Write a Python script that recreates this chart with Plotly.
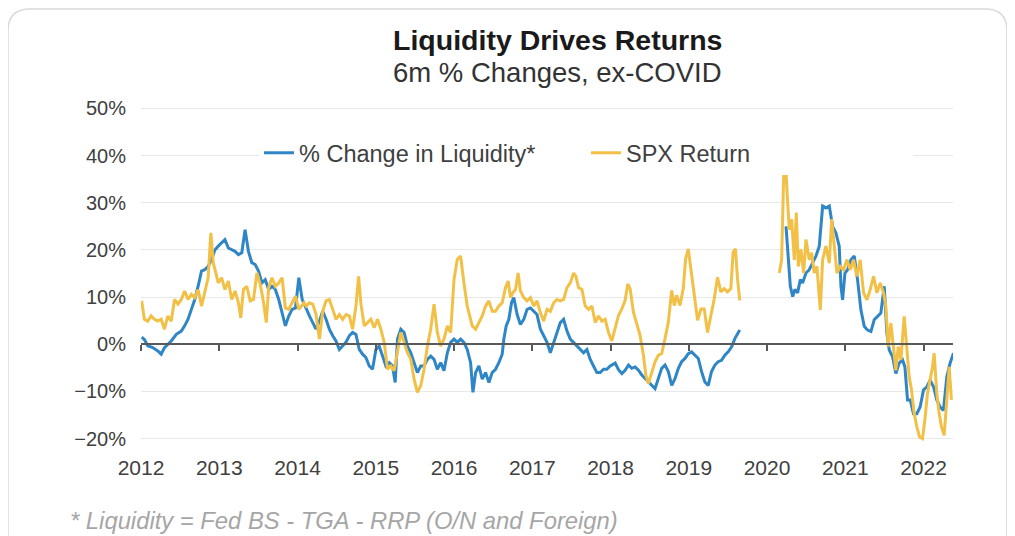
import plotly.graph_objects as go

# ---------------- data ----------------
years = [2012, 2013, 2014, 2015, 2016, 2017, 2018, 2019, 2020, 2021, 2022]
year_labels = [str(y) for y in years]

# % Change in Liquidity* (6m, %), decimal-year dates; None marks the ex-COVID gap
liq_t = [2012.009, 2012.043, 2012.086, 2012.150, 2012.215, 2012.258, 2012.300, 2012.343, 2012.386, 2012.451,
         2012.515, 2012.558, 2012.601, 2012.644, 2012.687, 2012.730, 2012.773, 2012.815, 2012.858, 2012.901,
         2012.944, 2012.987, 2013.030, 2013.073, 2013.116, 2013.159, 2013.202, 2013.245, 2013.288, 2013.330,
         2013.373, 2013.416, 2013.459, 2013.502, 2013.545, 2013.588, 2013.631, 2013.674, 2013.717, 2013.760,
         2013.803, 2013.845, 2013.888, 2013.931, 2013.974, 2014.017, 2014.060, 2014.110, 2014.152, 2014.195,
         2014.237, 2014.280, 2014.322, 2014.365, 2014.407, 2014.450, 2014.492, 2014.535, 2014.577, 2014.619,
         2014.662, 2014.704, 2014.747, 2014.789, 2014.832, 2014.874, 2014.917, 2014.959, 2015.002, 2015.044,
         2015.087, 2015.129, 2015.172, 2015.214, 2015.248, 2015.278, 2015.320, 2015.363, 2015.405, 2015.448,
         2015.490, 2015.532, 2015.575, 2015.617, 2015.660, 2015.702, 2015.745, 2015.787, 2015.830, 2015.872,
         2015.915, 2015.957, 2016.000, 2016.042, 2016.084, 2016.127, 2016.169, 2016.212, 2016.242, 2016.276,
         2016.318, 2016.361, 2016.403, 2016.446, 2016.488, 2016.531, 2016.573, 2016.616, 2016.637, 2016.667,
         2016.701, 2016.735, 2016.764, 2016.807, 2016.849, 2016.892, 2016.934, 2016.977, 2017.019, 2017.061,
         2017.104, 2017.146, 2017.189, 2017.231, 2017.274, 2017.316, 2017.359, 2017.401, 2017.444, 2017.486,
         2017.529, 2017.571, 2017.614, 2017.656, 2017.698, 2017.741, 2017.783, 2017.826, 2017.868, 2017.911,
         2017.953, 2017.996, 2018.060, 2018.102, 2018.145, 2018.187, 2018.230, 2018.272, 2018.315, 2018.357,
         2018.400, 2018.442, 2018.485, 2018.527, 2018.569, 2018.612, 2018.654, 2018.697, 2018.739, 2018.782,
         2018.824, 2018.867, 2018.909, 2018.952, 2018.994, 2019.037, 2019.079, 2019.122, 2019.164, 2019.206,
         2019.249, 2019.291, 2019.334, 2019.376, 2019.419, 2019.461, 2019.504, 2019.546, 2019.589, 2019.631,
         2019.652, 2019.900,
         2020.243, 2020.272, 2020.298, 2020.328, 2020.357, 2020.391, 2020.426, 2020.455, 2020.498, 2020.540,
         2020.583, 2020.626, 2020.668, 2020.711, 2020.753, 2020.796, 2020.838, 2020.881, 2020.923, 2020.945,
         2020.966, 2020.996, 2021.030, 2021.072, 2021.115, 2021.157, 2021.200, 2021.243, 2021.285, 2021.328,
         2021.370, 2021.413, 2021.455, 2021.498, 2021.532, 2021.562, 2021.604, 2021.647, 2021.689, 2021.732,
         2021.762, 2021.796, 2021.830, 2021.872, 2021.915, 2021.957, 2022.000, 2022.043, 2022.085, 2022.128,
         2022.170, 2022.213, 2022.255, 2022.298, 2022.340, 2022.383]
liq_v = [1.5, 1.0, -0.3, -0.7, -1.4, -2.1, -0.7, 0.0, 0.7, 2.1,
         2.8, 3.9, 5.3, 7.4, 9.5, 12.3, 15.5, 15.8, 16.5, 18.0,
         20.0, 20.8, 21.5, 22.2, 20.4, 20.0, 19.7, 19.0, 19.4, 24.3,
         19.7, 17.3, 16.9, 15.5, 13.0, 13.7, 11.6, 12.3, 11.6, 9.5,
         6.7, 3.9, 6.0, 7.4, 7.7, 14.1, 9.5, 7.4, 6.0, 4.6,
         3.2, 4.9, 7.0, 5.3, 3.2, 1.8, 0.7, -1.1, -0.4, 0.4,
         1.8, 2.5, 2.1, -1.1, -2.1, -2.8, -4.6, -5.3, -1.1, -0.4,
         -2.5, -4.6, -3.9, -4.6, -8.1, 1.1, 3.2, 2.5, -0.4, -1.8,
         -3.9, -6.0, -4.6, -4.6, -3.2, -2.5, -3.2, -5.3, -3.9, -5.6,
         -1.8, 0.4, 1.1, 0.4, 1.1, 0.4, -1.1, -3.9, -10.2, -6.0,
         -4.6, -7.4, -6.0, -8.1, -6.0, -5.3, -3.9, -2.1, 1.1, 3.9,
         5.3, 8.8, 9.9, 6.3, 4.2, 5.3, 7.4, 7.7, 7.0, 6.3,
         3.2, 1.8, 0.4, -1.8, 0.4, 2.5, 4.6, 5.3, 2.8, 1.1,
         0.4, -0.4, -1.1, -1.8, -1.1, -3.2, -4.6, -6.0, -6.0, -5.3,
         -5.3, -4.6, -4.0, -5.4, -6.2, -5.5, -4.4, -5.1, -4.8, -5.5,
         -6.5, -7.3, -8.0, -8.7, -9.4, -7.3, -5.1, -4.4, -5.8, -8.7,
         -7.3, -5.1, -3.7, -3.0, -2.0, -1.6, -2.3, -3.0, -5.8, -8.0,
         -8.7, -5.8, -4.4, -3.7, -3.4, -2.3, -1.6, -0.6, 1.2, 2.6,
         3.0, None,
         25.0, 17.9, 12.3, 10.1, 11.6, 10.9, 13.7, 13.0, 15.1, 15.8,
         17.2, 18.7, 20.8, 29.3, 28.9, 29.3, 25.0, 23.6, 20.8, 12.3,
         9.4, 15.1, 15.8, 17.9, 18.7, 13.7, 7.3, 3.8, 3.0, 2.7,
         5.2, 5.9, 6.6, 12.3, 2.3, -1.2, -2.6, -6.2, -4.0, -3.3,
         -4.8, -11.8, -11.8, -14.7, -14.7, -13.3, -9.7, -9.0, -7.6, -9.0,
         -11.8, -13.3, -14.0, -6.9, -4.0, -1.9]

# SPX Return (6m, %)
spx_t = [2012.009, 2012.043, 2012.086, 2012.129, 2012.172, 2012.215, 2012.258, 2012.300, 2012.343, 2012.386,
         2012.429, 2012.472, 2012.515, 2012.558, 2012.601, 2012.644, 2012.687, 2012.730, 2012.773, 2012.815,
         2012.858, 2012.893, 2012.923, 2012.957, 2012.987, 2013.030, 2013.073, 2013.116, 2013.159, 2013.202,
         2013.245, 2013.275, 2013.309, 2013.352, 2013.395, 2013.438, 2013.481, 2013.524, 2013.567, 2013.601,
         2013.631, 2013.674, 2013.717, 2013.760, 2013.803, 2013.845, 2013.888, 2013.931, 2013.974, 2014.017,
         2014.082, 2014.110, 2014.152, 2014.195, 2014.237, 2014.280, 2014.322, 2014.365, 2014.407, 2014.450,
         2014.492, 2014.535, 2014.577, 2014.619, 2014.662, 2014.704, 2014.747, 2014.781, 2014.811, 2014.853,
         2014.895, 2014.938, 2014.980, 2015.023, 2015.065, 2015.108, 2015.150, 2015.193, 2015.235, 2015.278,
         2015.320, 2015.363, 2015.405, 2015.448, 2015.490, 2015.532, 2015.575, 2015.617, 2015.660, 2015.702,
         2015.745, 2015.787, 2015.830, 2015.872, 2015.915, 2015.957, 2016.000, 2016.042, 2016.084, 2016.127,
         2016.169, 2016.233, 2016.276, 2016.318, 2016.361, 2016.403, 2016.446, 2016.488, 2016.531, 2016.573,
         2016.616, 2016.658, 2016.692, 2016.722, 2016.752, 2016.786, 2016.819, 2016.849, 2016.892, 2016.934,
         2016.977, 2017.019, 2017.061, 2017.104, 2017.146, 2017.189, 2017.231, 2017.274, 2017.316, 2017.359,
         2017.401, 2017.444, 2017.486, 2017.529, 2017.558, 2017.592, 2017.635, 2017.677, 2017.720, 2017.762,
         2017.805, 2017.847, 2017.890, 2017.932, 2017.974, 2018.017, 2018.060, 2018.102, 2018.145, 2018.187,
         2018.221, 2018.251, 2018.293, 2018.336, 2018.378, 2018.421, 2018.451, 2018.485, 2018.527, 2018.569,
         2018.612, 2018.654, 2018.697, 2018.739, 2018.782, 2018.816, 2018.845, 2018.888, 2018.930, 2018.960,
         2018.994, 2019.028, 2019.071, 2019.113, 2019.156, 2019.198, 2019.240, 2019.283, 2019.325, 2019.368,
         2019.410, 2019.453, 2019.495, 2019.538, 2019.567, 2019.597, 2019.623, 2019.652, 2019.900,
         2020.157, 2020.187, 2020.213, 2020.243, 2020.264, 2020.285, 2020.315, 2020.349, 2020.374, 2020.400,
         2020.434, 2020.468, 2020.498, 2020.540, 2020.570, 2020.604, 2020.638, 2020.681, 2020.711, 2020.753,
         2020.796, 2020.826, 2020.860, 2020.894, 2020.936, 2020.979, 2021.021, 2021.064, 2021.106, 2021.149,
         2021.191, 2021.234, 2021.277, 2021.319, 2021.362, 2021.404, 2021.447, 2021.489, 2021.519, 2021.549,
         2021.583, 2021.617, 2021.647, 2021.677, 2021.711, 2021.753, 2021.787, 2021.817, 2021.847, 2021.881,
         2021.915, 2021.949, 2021.987, 2022.017, 2022.051, 2022.085, 2022.115, 2022.136, 2022.170, 2022.200,
         2022.230, 2022.264, 2022.298, 2022.328, 2022.357]
spx_v = [9.2, 5.3, 4.9, 6.0, 5.3, 4.9, 5.3, 3.2, 6.0, 4.9,
         9.5, 8.5, 9.5, 11.3, 9.5, 10.6, 9.9, 11.6, 8.1, 11.3,
         14.1, 23.6, 17.3, 15.1, 13.0, 14.1, 11.6, 13.4, 9.5, 11.3,
         8.8, 5.6, 11.6, 12.3, 9.2, 9.5, 15.1, 12.7, 8.8, 4.6,
         12.0, 14.1, 12.3, 13.0, 14.1, 7.7, 7.4, 8.8, 10.2, 7.4,
         8.8, 8.1, 8.8, 8.5, 6.3, 1.1, 7.0, 9.2, 9.5, 7.4,
         5.3, 6.3, 5.3, 6.3, 6.0, 3.2, 8.1, 14.4, 8.5, 3.9,
         4.6, 5.3, 3.5, 5.3, 3.2, 0.4, -5.3, -4.6, -5.6, -1.1,
         2.5, 0.4, -1.8, -3.2, -7.4, -10.2, -8.8, -5.3, -0.4, 3.2,
         8.5, 2.5, -0.4, 1.1, 3.9, 2.5, 13.7, 18.0, 18.7, 13.0,
         8.1, 3.9, 3.2, 4.6, 6.0, 8.1, 9.2, 7.0, 7.0, 8.1,
         8.8, 12.0, 13.4, 9.9, 10.9, 11.6, 15.1, 11.3, 9.9, 9.2,
         9.9, 8.1, 9.2, 6.7, 4.9, 7.4, 7.0, 8.8, 9.5, 9.2,
         9.5, 12.0, 13.0, 15.1, 14.4, 12.0, 11.6, 8.1, 7.4, 8.1,
         4.6, 6.0, 4.9, 5.3, 2.5, 0.7, 3.3, 6.1, 7.5, 9.3,
         12.8, 11.8, 6.8, 4.0, 1.9, -2.3, -6.5, -8.3, -5.8, -3.7,
         -2.3, -2.0, 1.2, 4.7, 11.4, 8.2, 10.4, 8.2, 11.8, 18.1,
         20.2, 15.3, 10.4, 5.1, 7.5, 7.5, 2.5, 6.1, 9.6, 14.2,
         11.1, 11.8, 11.1, 11.8, 19.5, 20.2, 13.9, 9.3, None,
         15.1, 17.9, 35.7, 36.4, 30.0, 24.3, 26.5, 17.9, 27.9, 16.5,
         20.1, 15.1, 22.2, 17.9, 19.4, 15.1, 16.5, 7.3, 17.9, 20.8,
         17.2, 26.5, 20.8, 15.1, 16.5, 15.8, 17.9, 15.8, 17.9, 14.4,
         17.9, 10.9, 9.4, 11.6, 14.4, 10.9, 13.0, 10.9, 8.0, -0.5,
         4.5, -0.5, -5.5, -0.5, -3.3, 5.9, -0.5, -6.9, -9.7, -14.7,
         -17.5, -19.6, -20.0, -16.1, -10.4, -7.6, -4.8, -1.9, -10.4, -14.7,
         -17.5, -19.3, -10.4, -4.8, -11.8]

# ---------------- styling / layout ----------------
WIN_W, WIN_H = 1015, 536
OFF = 8                      # default page body margin of the written html
W, H = WIN_W - OFF, WIN_H - OFF
PLOT_L, PLOT_R, PLOT_T, PLOT_B = 141, 953, 106, 441   # target plot box in window pixels
ML, MT = PLOT_L - OFF, PLOT_T - OFF
MR, MB = WIN_W - PLOT_R, WIN_H - PLOT_B
PW, PH = PLOT_R - PLOT_L, PLOT_B - PLOT_T
Y_RANGE = [-20.5, 50.5]
X_RANGE = [2012.0, 2022.377]
BLUE = "#2F86C6"
GOLD = "#F2C046"
AXIS = "#595959"
TXT = "#404040"
FONT = "Liberation Sans, Arial, sans-serif"


def pxx(x):
    return (x - PLOT_L) / PW


def pxy(y):
    return (PLOT_B - y) / PH


fig = go.Figure()
fig.add_trace(go.Scatter(x=liq_t, y=liq_v, mode="lines", name="% Change in Liquidity*",
                         line=dict(color=BLUE, width=3), connectgaps=False))
fig.add_trace(go.Scatter(x=spx_t, y=spx_v, mode="lines", name="SPX Return",
                         line=dict(color=GOLD, width=3), connectgaps=False))
# carrier trace for the zero-line tick axis
fig.add_trace(go.Scatter(x=years[:1], y=[None], xaxis="x2", showlegend=False,
                         hoverinfo="skip", mode="lines"))

zero_pos = (0 - Y_RANGE[0]) / (Y_RANGE[1] - Y_RANGE[0])

fig.update_layout(
    width=W, height=H,
    margin=dict(l=ML, r=MR, t=MT, b=MB, pad=0),
    paper_bgcolor="white", plot_bgcolor="white",
    font=dict(family=FONT, color=TXT, size=20),
    showlegend=True,
    legend=dict(orientation="h", x=pxx(259), y=pxy(153), xanchor="left", yanchor="middle",
                bgcolor="white", font=dict(size=23.5, color=TXT), entrywidth=282,
                itemwidth=30, tracegroupgap=0),
    xaxis=dict(range=X_RANGE, tickmode="array", tickvals=years, ticktext=year_labels,
               showgrid=False, zeroline=False, showline=False, ticks="",
               tickfont=dict(size=21, color=TXT), ticklabelstandoff=12, fixedrange=True),
    xaxis2=dict(range=X_RANGE, overlaying="x", anchor="free", position=zero_pos,
                tickmode="array", tickvals=years, showticklabels=False,
                showgrid=False, zeroline=False, showline=True, linecolor=AXIS, linewidth=1.5,
                ticks="outside", ticklen=6, tickwidth=1.5, tickcolor=AXIS, fixedrange=True),
    yaxis=dict(range=Y_RANGE, tickmode="linear", tick0=0, dtick=10, ticksuffix="%",
               showgrid=True, gridcolor="#e8e8e8", gridwidth=1,
               zeroline=True, zerolinecolor=AXIS, zerolinewidth=1.5, showline=False, ticks="",
               tickfont=dict(size=20, color=TXT), ticklabelstandoff=14, fixedrange=True),
)

# titles and footnote
fig.add_annotation(text="<b>Liquidity Drives Returns</b>", xref="paper", yref="paper",
                   x=pxx(557), y=pxy(40), xanchor="center", yanchor="middle", showarrow=False,
                   font=dict(size=28.5, color="#1a1a1a", family=FONT))
fig.add_annotation(text="6m % Changes, ex-COVID", xref="paper", yref="paper",
                   x=pxx(557), y=pxy(72), xanchor="center", yanchor="middle", showarrow=False,
                   font=dict(size=27.5, color="#333333", family=FONT))
fig.add_annotation(text="<i>* Liquidity = Fed BS - TGA - RRP (O/N and Foreign)</i>", xref="paper",
                   yref="paper", x=pxx(68), y=pxy(520), xanchor="left", yanchor="middle",
                   showarrow=False, font=dict(size=23.8, color="#a6a6a6", family=FONT))

# rounded card border (screenshot frame)
x0, x1 = pxx(8), pxx(1007)
yt, yb = pxy(9), pxy(560)
rx, ry = 22 / PW, 22 / PH
card = (f"M {x0},{yb} L {x0},{yt - ry} Q {x0},{yt} {x0 + rx},{yt} "
        f"L {x1 - rx},{yt} Q {x1},{yt} {x1},{yt - ry} L {x1},{yb}")
fig.add_shape(type="path", path=card, xref="paper", yref="paper",
              line=dict(color="#d9d9d9", width=1.5), layer="below")

fig.write_html("out.html")
